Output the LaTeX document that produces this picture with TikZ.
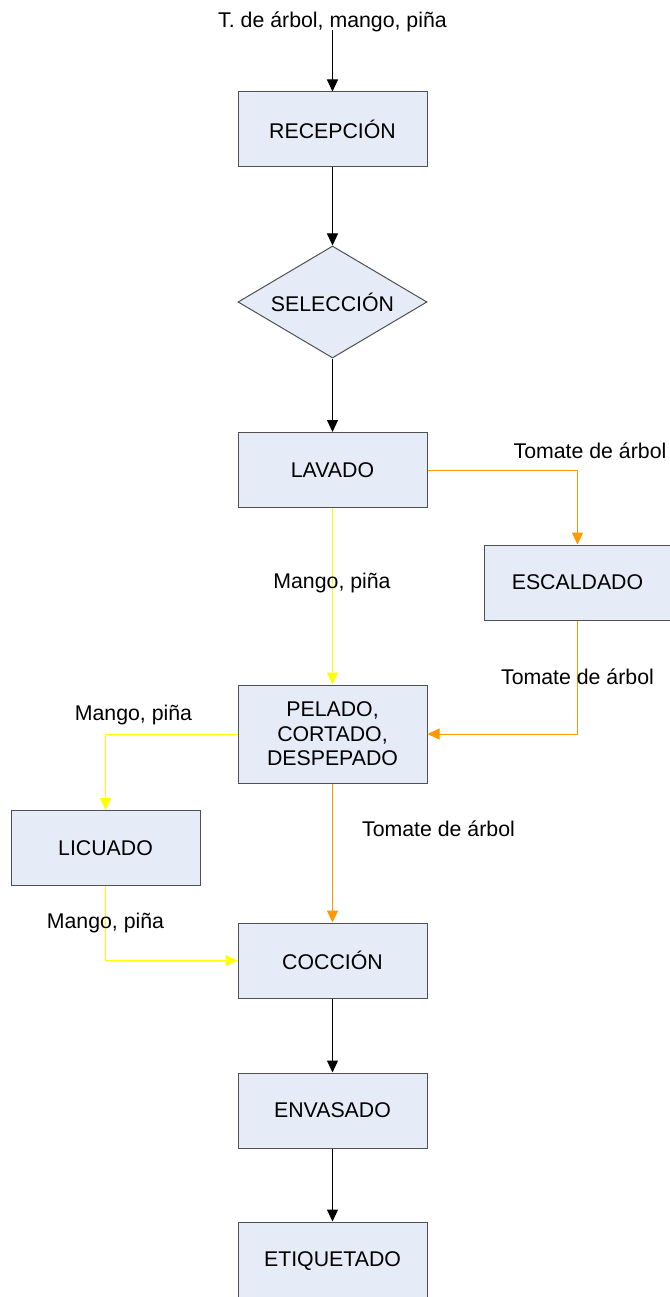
\documentclass[tikz,border=0pt]{standalone}
\usepackage{fontspec}
\setmainfont{Liberation Sans}
\usetikzlibrary{arrows.meta,shapes.geometric}
\definecolor{relleno}{RGB}{230,236,247}
\definecolor{borde}{RGB}{80,80,80}
\definecolor{naranja}{RGB}{255,153,0}
\definecolor{amarillo}{RGB}{255,255,0}
\begin{document}
\begin{tikzpicture}[x=1pt,y=-1pt,
  every node/.style={font=\fontsize{21.3}{24.5}\selectfont},
  paso/.style={draw=borde,fill=relleno,line width=1pt,minimum width=189pt,minimum height=75pt,inner sep=0pt,align=center},
  decision/.style={diamond,aspect=1.69,draw=borde,fill=relleno,line width=1pt,minimum width=189pt,minimum height=112pt,inner sep=0pt},
  flecha/.style={-{Triangle[length=12pt,width=11pt]},line width=1pt},
  flechanar/.style={flecha,naranja},
  flechaama/.style={flecha,amarillo}]
\useasboundingbox (0,0) rectangle (669,1297);
% pasos del proceso
\node (entrada) at (332.5,22) {T. de árbol, mango, piña};
\coordinate (inicio) at (332.5,30);
\node[paso] (recepcion) at (332.5,129.5) {RECEPCIÓN};
\node[decision] (seleccion) at (332.5,302) {SELECCIÓN};
\node[paso] (lavado) at (332.5,470) {LAVADO};
\node[paso,minimum width=186pt] (escaldado) at (577.5,582.5) {ESCALDADO};
\node[paso,minimum height=98pt] (pelado) at (332.5,734) {PELADO,\\CORTADO,\\DESPEPADO};
\node[paso] (licuado) at (105.5,848) {LICUADO};
\node[paso] (coccion) at (332.5,960.5) {COCCIÓN};
\node[paso] (envasado) at (332.5,1110.5) {ENVASADO};
\node[paso,minimum height=78pt] (etiquetado) at (332.5,1261) {ETIQUETADO};
% conexiones
\draw[flecha] (inicio) -- (recepcion);
\draw[flecha] (recepcion) -- (seleccion);
\draw[flecha] (seleccion) -- (lavado);
\draw[flechanar] (lavado.east) -| (escaldado.north);
\draw[flechaama] (lavado) -- (pelado);
\draw[flechanar] (escaldado.south) |- (pelado.east);
\draw[flechaama] (pelado.west) -| (licuado.north);
\draw[flechanar] (pelado) -- (coccion);
\draw[flechaama] (licuado.south) |- (coccion.west);
\draw[flecha] (coccion) -- (envasado);
\draw[flecha] (envasado) -- (etiquetado);
% etiquetas
\node (tomate1) at (590,451) {Tomate de árbol};
\node (mango1) at (332,583) {Mango, piña};
\node (tomate2) at (577.5,677) {Tomate de árbol};
\node (mango2) at (133.5,715) {Mango, piña};
\node (tomate3) at (438.5,829) {Tomate de árbol};
\node (mango3) at (105.5,923) {Mango, piña};
\end{tikzpicture}
\end{document}
